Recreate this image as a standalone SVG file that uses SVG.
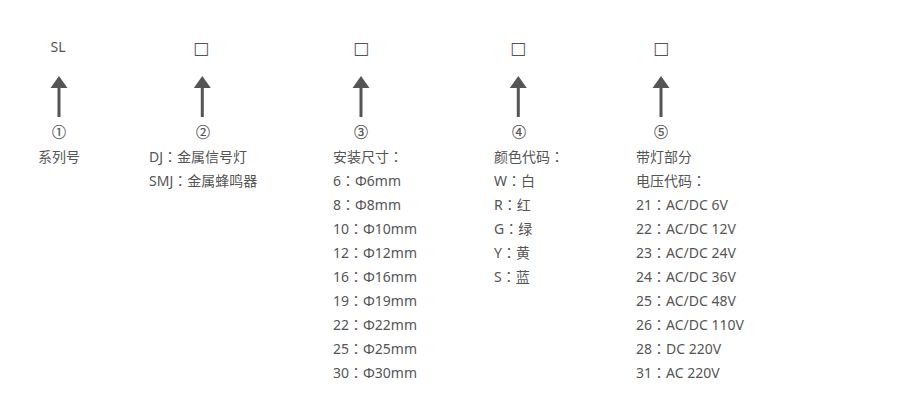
<svg xmlns="http://www.w3.org/2000/svg" width="900" height="418" viewBox="0 0 900 418">
<style>
text{font-family:"Noto Sans","Noto Sans CJK SC",sans-serif;font-size:14px;fill:#555}
.c{text-anchor:middle}
.g{font-family:"DejaVu Sans",sans-serif;font-size:17px}
.n{font-family:"Noto Sans CJK SC",sans-serif;font-size:14px;stroke:#555;stroke-width:0.25}
.k{font-family:"Noto Sans CJK TC",sans-serif}
.arrow{fill:#555}
</style>
<rect width="900" height="418" fill="#fff"/>
<g id="connectors">
<path class="arrow" d="M57.5 88 V117 H60.5 V88 H67.5 L59 76 L50.5 88 Z"/>
<path class="arrow" d="M200.8 88 V117 H203.8 V88 H210.8 L202.3 76 L193.8 88 Z"/>
<path class="arrow" d="M359.5 88 V117 H362.5 V88 H369.5 L361 76 L352.5 88 Z"/>
<path class="arrow" d="M516.8 88 V117 H519.8 V88 H526.8 L518.3 76 L509.8 88 Z"/>
<path class="arrow" d="M659.5 88 V117 H662.5 V88 H669.5 L661 76 L652.5 88 Z"/>
</g>
<g id="n1">
<text class="c" x="58" y="52">SL</text>
<text class="c n" x="59" y="137">①</text>
<text x="38" y="162">系列号</text>
</g>
<g id="n2">
<text class="c g" x="201" y="54">□</text>
<text class="c n" x="203" y="137">②</text>
<text x="149" y="162">DJ<tspan class="k">：</tspan>金属信号灯</text>
<text x="149" y="186">SMJ<tspan class="k">：</tspan>金属蜂鸣器</text>
</g>
<g id="n3">
<text class="c g" x="361" y="54">□</text>
<text class="c n" x="361" y="137">③</text>
<text x="333" y="162">安装尺寸<tspan class="k">：</tspan></text>
<text x="333" y="186">6<tspan class="k">：</tspan>Φ6mm</text>
<text x="333" y="210">8<tspan class="k">：</tspan>Φ8mm</text>
<text x="333" y="234">10<tspan class="k">：</tspan>Φ10mm</text>
<text x="333" y="258">12<tspan class="k">：</tspan>Φ12mm</text>
<text x="333" y="282">16<tspan class="k">：</tspan>Φ16mm</text>
<text x="333" y="306">19<tspan class="k">：</tspan>Φ19mm</text>
<text x="333" y="330">22<tspan class="k">：</tspan>Φ22mm</text>
<text x="333" y="354">25<tspan class="k">：</tspan>Φ25mm</text>
<text x="333" y="378">30<tspan class="k">：</tspan>Φ30mm</text>
</g>
<g id="n4">
<text class="c g" x="518" y="54">□</text>
<text class="c n" x="519" y="137">④</text>
<text x="494" y="162">颜色代码<tspan class="k">：</tspan></text>
<text x="494" y="186">W<tspan class="k">：</tspan>白</text>
<text x="494" y="210">R<tspan class="k">：</tspan>红</text>
<text x="494" y="234">G<tspan class="k">：</tspan>绿</text>
<text x="494" y="258">Y<tspan class="k">：</tspan>黄</text>
<text x="494" y="282">S<tspan class="k">：</tspan>蓝</text>
</g>
<g id="n5">
<text class="c g" x="661" y="54">□</text>
<text class="c n" x="661" y="137">⑤</text>
<text x="636" y="162">带灯部分</text>
<text x="636" y="186">电压代码<tspan class="k">：</tspan></text>
<text x="636" y="210">21<tspan class="k">：</tspan>AC/DC 6V</text>
<text x="636" y="234">22<tspan class="k">：</tspan>AC/DC 12V</text>
<text x="636" y="258">23<tspan class="k">：</tspan>AC/DC 24V</text>
<text x="636" y="282">24<tspan class="k">：</tspan>AC/DC 36V</text>
<text x="636" y="306">25<tspan class="k">：</tspan>AC/DC 48V</text>
<text x="636" y="330">26<tspan class="k">：</tspan>AC/DC 110V</text>
<text x="636" y="354">28<tspan class="k">：</tspan>DC 220V</text>
<text x="636" y="378">31<tspan class="k">：</tspan>AC 220V</text>
</g>
</svg>
